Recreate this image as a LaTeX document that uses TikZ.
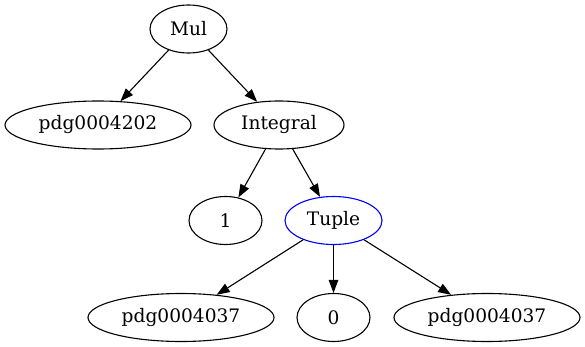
\documentclass[tikz,border=0pt]{standalone}
\usepackage{fontspec}
\setmainfont{DejaVu Serif}
\usepackage{tikz}
\usetikzlibrary{arrows.meta,shapes.geometric}
\definecolor{tuplecol}{RGB}{0,0,255}

\begin{document}
\begin{tikzpicture}[
    x=1pt,y=-1pt,
    vertex/.style={ellipse,draw=#1,line width=1.1pt,minimum height=48pt,inner sep=0pt,font=\fontsize{18.6}{20}\selectfont},
    vertex/.default=black,
    arrow/.style={-{Triangle[length=13pt,width=9.5pt]},line width=1.1pt,#1},
    arrow/.default=black
]
\useasboundingbox (0,0) rectangle (585,347);

\node[vertex,minimum width=77pt] (mul) at (188.5,29) {Mul};
\node[vertex,minimum width=186pt] (pdga) at (98,125) {pdg0004202};
\node[vertex,minimum width=130pt] (integral) at (279,125) {Integral};
\node[vertex,minimum width=73pt] (one) at (225.5,220.5) {1};
\node[vertex=tuplecol,minimum width=97pt] (tuple) at (333.5,220.5) {Tuple};
\node[vertex,minimum width=186pt] (pdgb) at (181,317.5) {pdg0004037};
\node[vertex,minimum width=73pt] (zero) at (333.5,317.5) {0};
\node[vertex,minimum width=186pt] (pdgc) at (487,317.5) {pdg0004037};

\draw[arrow] (mul) -- (pdga);
\draw[arrow] (mul) -- (integral);
\draw[arrow] (integral) -- (one);
\draw[arrow] (integral) -- (tuple);
\draw[arrow] (tuple) -- (pdgb);
\draw[arrow] (tuple) -- (zero);
\draw[arrow] (tuple) -- (pdgc);

\end{tikzpicture}
\end{document}
